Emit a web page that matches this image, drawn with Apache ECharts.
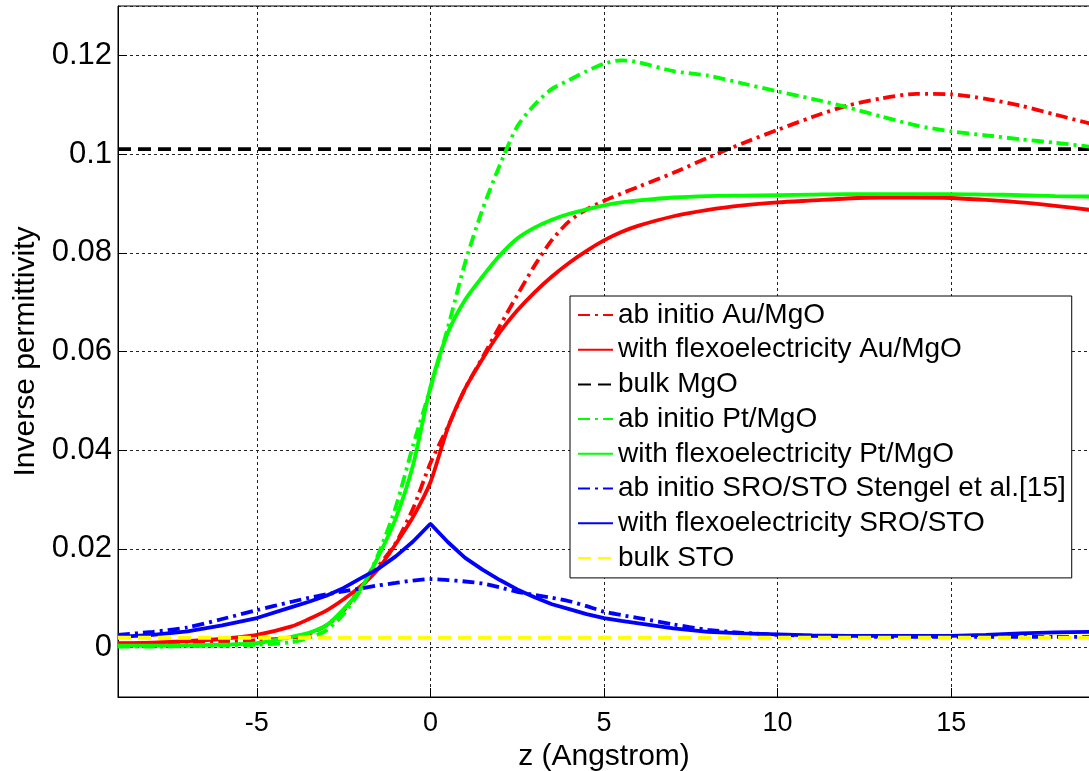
<!DOCTYPE html>
<html>
<head>
<meta charset="utf-8">
<script src="https://cdn.jsdelivr.net/npm/echarts@6/dist/echarts.min.js"></script>
<style>
html,body{margin:0;padding:0;background:#fff;}
#chart{width:1089px;height:771px;}
</style>
</head>
<body>
<div id="chart"></div>
<script>
// ---- data ----
const z = [-9,-8,-7,-6,-5,-4,-3.5,-3,-2.5,-2,-1.5,-1,-0.5,0,0.5,1,1.5,2,2.5,3,3.5,4,4.5,5,5.5,6,7,8,9,10,11,12,13,14,15,16,17,18,19];

const auAbInitio = [0.0008,0.0009,0.001,0.0012,0.0015,0.002,0.0028,0.0045,0.0075,0.0122,0.0165,0.0212,0.0282,0.0374,0.0447,0.0525,0.0588,0.0652,0.0714,0.0774,0.0826,0.0864,0.0888,0.0905,0.092,0.0934,0.0962,0.0993,0.1022,0.1049,0.1075,0.1098,0.1113,0.1122,0.1121,0.1112,0.1098,0.108,0.1062];

const auFlexo = [0.0009,0.001,0.0013,0.0018,0.0026,0.0043,0.0058,0.0075,0.0098,0.0125,0.016,0.021,0.0265,0.0335,0.0445,0.0525,0.0585,0.0639,0.0683,0.072,0.0752,0.078,0.0804,0.0825,0.0842,0.0855,0.0874,0.0887,0.0896,0.0902,0.0906,0.091,0.0912,0.0912,0.0911,0.0907,0.0902,0.0895,0.0887];

const ptAbInitio = [0.0002,0.0002,0.0003,0.0004,0.0006,0.0011,0.002,0.0035,0.0068,0.0118,0.019,0.0285,0.041,0.0525,0.0648,0.078,0.0888,0.0978,0.1056,0.11,0.1132,0.115,0.1168,0.1183,0.119,0.1186,0.1168,0.1159,0.1143,0.1127,0.1112,0.1095,0.1076,0.1058,0.1046,0.1038,0.103,0.1023,0.1015];

const ptFlexo = [0.0004,0.0004,0.0005,0.0006,0.0009,0.0022,0.003,0.0045,0.0078,0.012,0.0185,0.0262,0.037,0.0528,0.0638,0.0705,0.0752,0.0795,0.0829,0.0851,0.0867,0.0879,0.0888,0.0896,0.0902,0.0906,0.0912,0.0915,0.0916,0.0917,0.0918,0.0919,0.0919,0.0919,0.0919,0.0918,0.0917,0.0915,0.0914];

const sroAbInitio = [0.0026,0.0032,0.0041,0.0058,0.0076,0.0093,0.0101,0.0108,0.0114,0.012,0.0126,0.0131,0.0136,0.0139,0.0137,0.0134,0.013,0.0122,0.0113,0.0107,0.0101,0.0094,0.0084,0.0073,0.0066,0.006,0.0047,0.0036,0.003,0.0026,0.0024,0.0023,0.0022,0.0022,0.0022,0.0022,0.0022,0.0022,0.0022];

const sroFlexo = [0.0022,0.0026,0.0033,0.0045,0.006,0.0082,0.0093,0.0105,0.0121,0.0141,0.016,0.0185,0.0215,0.0251,0.0214,0.0182,0.0158,0.0137,0.0118,0.0102,0.0088,0.0078,0.0068,0.006,0.0054,0.0049,0.0039,0.0032,0.0029,0.0027,0.0025,0.0024,0.0024,0.0024,0.0024,0.0026,0.0029,0.0031,0.0032];

const zBulk = [-9, 19];
const bulkMgO = [0.101, 0.101];
const bulkSTO = [0.002, 0.002];

const seriesNames = [
  'ab initio Au/MgO',
  'with flexoelectricity Au/MgO',
  'bulk MgO',
  'ab initio Pt/MgO',
  'with flexoelectricity Pt/MgO',
  'ab initio SRO/STO Stengel et al.[15]',
  'with flexoelectricity SRO/STO',
  'bulk STO'
];

const xTitle = 'z (Angstrom)';
const yTitle = 'Inverse permittivity';

// ---- build ----
function pairs(xs, ys){ return xs.map((x,i)=>[x, ys[i]]); }
const FONT = '"Liberation Sans", Arial, Helvetica, sans-serif';
const DASHDOT = [12,5,3,5];
const DASH = [13,7];

function mk(name, xs, ys, color, type, smooth){
  return {
    name: name,
    type: 'line',
    data: pairs(xs, ys),
    showSymbol: false,
    symbol: 'none',
    smooth: smooth ? 0.25 : false,
    lineStyle: {color: color, width: 3.8, type: type},
    itemStyle: {color: color},
    emphasis: {disabled: true},
    animation: false
  };
}

const chart = echarts.init(document.getElementById('chart'), null, {renderer: 'canvas'});
chart.setOption({
  animation: false,
  backgroundColor: '#fff',
  textStyle: {fontFamily: FONT},
  grid: {
    left: 118, top: 6, width: 972, height: 691,
    containLabel: false,
    outerBoundsMode: 'none',
    show: true, borderColor: '#000', borderWidth: 1, backgroundColor: 'transparent'
  },
  xAxis: {
    type: 'value', min: -9, max: 19, splitNumber: 5,
    name: xTitle, nameLocation: 'middle', nameGap: 35,
    nameTextStyle: {fontSize: 30, color: '#000', fontFamily: FONT},
    axisLine: {show: true, onZero: false, lineStyle: {color: '#000', width: 1}},
    axisTick: {show: true, inside: true, length: 9, lineStyle: {color: '#000'}},
    axisLabel: {fontSize: 27, color: '#000', margin: 13, fontFamily: FONT, showMinLabel: false, showMaxLabel: false},
    splitLine: {show: true, lineStyle: {color: '#222', width: 1, type: [3,3]}}
  },
  yAxis: {
    type: 'value', min: -0.01, max: 0.13, splitNumber: 7,
    name: yTitle, nameLocation: 'middle', nameGap: 76,
    nameTextStyle: {fontSize: 30, color: '#000', fontFamily: FONT},
    axisLine: {show: true, onZero: false, lineStyle: {color: '#000', width: 1}},
    axisTick: {show: true, inside: true, length: 9, lineStyle: {color: '#000'}},
    axisLabel: {fontSize: 31, color: '#000', margin: 6, fontFamily: FONT, showMinLabel: false, showMaxLabel: false},
    splitLine: {show: true, lineStyle: {color: '#222', width: 1, type: [3,3]}}
  },
  legend: {
    orient: 'vertical', left: 570, top: 296,
    itemWidth: 35, itemHeight: 14, itemGap: 4.7,
    padding: [4, 6, 5, 7],
    backgroundColor: '#fff', borderColor: '#000', borderWidth: 1, borderRadius: 0,
    itemStyle: {opacity: 0},
    textStyle: {fontSize: 28, color: '#000', lineHeight: 30, fontFamily: FONT},
    data: seriesNames,
    selectedMode: false
  },
  series: [
    mk(seriesNames[0], z, auAbInitio, '#ff0000', DASHDOT, true),
    mk(seriesNames[1], z, auFlexo, '#ff0000', 'solid', true),
    mk(seriesNames[2], zBulk, bulkMgO, '#000000', DASH, false),
    mk(seriesNames[3], z, ptAbInitio, '#00ff00', DASHDOT, true),
    mk(seriesNames[4], z, ptFlexo, '#00ff00', 'solid', true),
    mk(seriesNames[5], z, sroAbInitio, '#0000ff', DASHDOT, true),
    mk(seriesNames[6], z, sroFlexo, '#0000ff', 'solid', false),
    mk(seriesNames[7], zBulk, bulkSTO, '#ffff00', DASH, false)
  ]
});
</script>
</body>
</html>
